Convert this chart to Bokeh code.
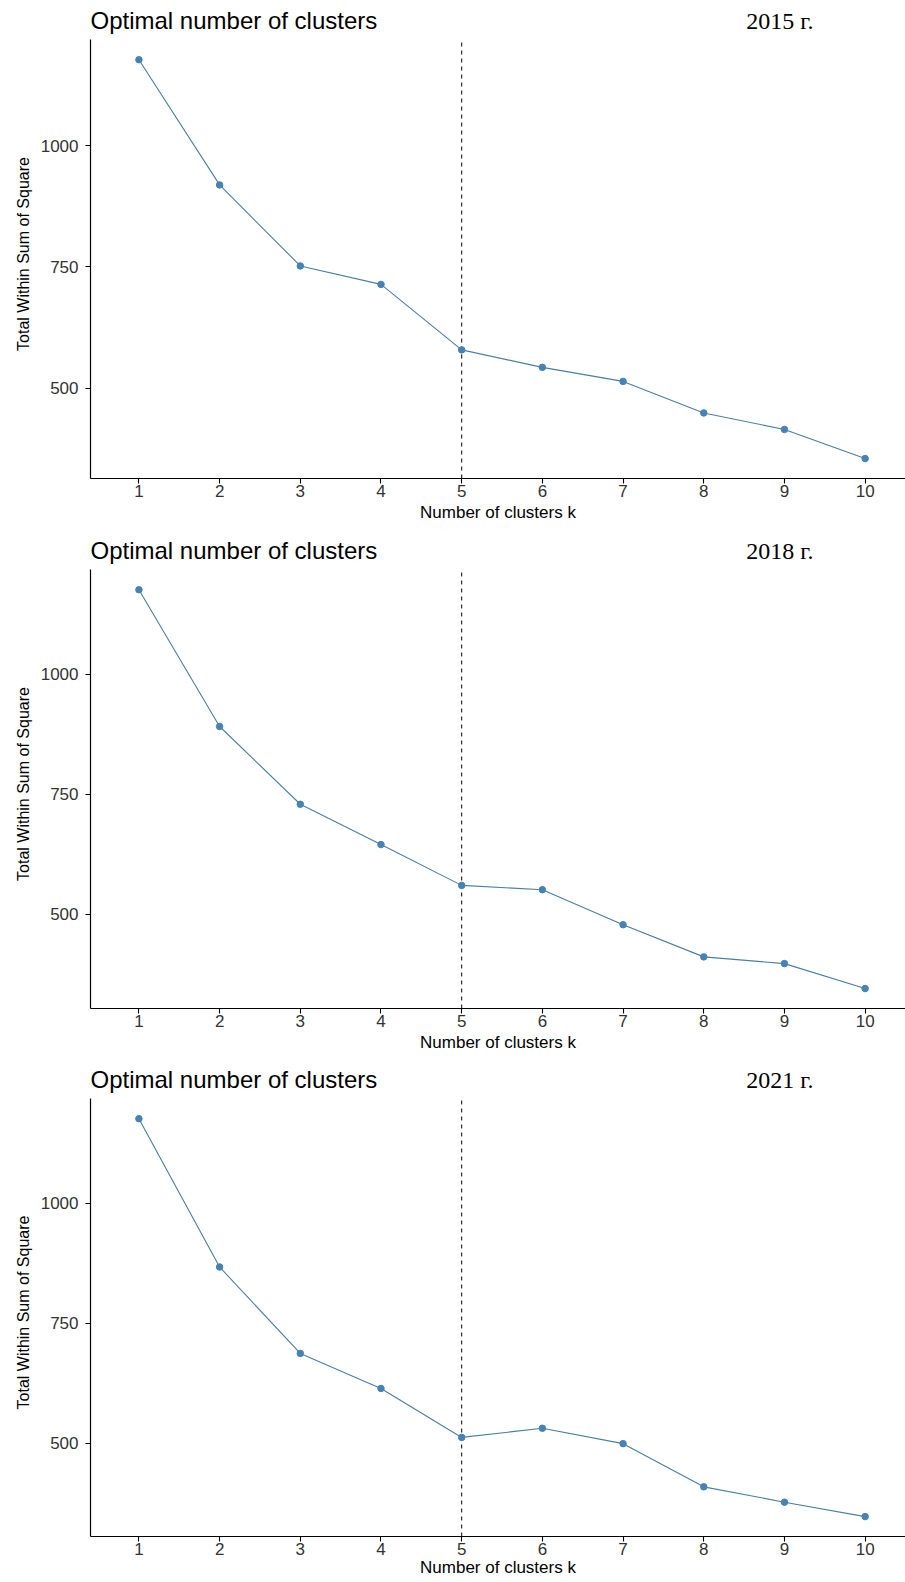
from bokeh.plotting import figure
from bokeh.layouts import column
from bokeh.models import Range1d, Label, FixedTicker, Title
from bokeh.embed import file_html
from bokeh.resources import INLINE

# ---- data ----
k = [1, 2, 3, 4, 5, 6, 7, 8, 9, 10]
wss_2015 = [1177, 919, 752, 714, 579, 543, 514, 449, 415, 355]
wss_2018 = [1176, 891, 729, 645, 560, 551, 478, 411, 397, 345]
wss_2021 = [1176, 867, 687, 614, 512, 531, 499, 409, 377, 347]
years = ["2015 г.", "2018 г.", "2021 г."]
y_ticks = [500, 750, 1000]
x_ticks = k
optimal_k = 5
title_text = "Optimal number of clusters"
x_label = "Number of clusters k"
y_label = "Total Within Sum of Square"

COLOR = "#4682B4"
LINE_COLOR = "#4a7ea6"
SANS = "Liberation Sans"
SERIF = "Liberation Serif"

X0, X1 = 0.4, 10.5
FRAME_W = 815
LEFT = 90
YLABEL_LEN = 12.227 * 16   # approx. rendered length of the y label (px)


def make_panel(values, year, height, bottom, top_px, xlab_standoff):
    frame_px = height - bottom
    data_px = frame_px - top_px
    lo, hi = min(values), max(values)
    pad = 0.05 * (hi - lo)
    y0, y1 = lo - pad, hi + pad
    upp = (y1 - y0) / data_px          # data units per pixel (vertical)
    xpp = (X1 - X0) / FRAME_W          # data units per pixel (horizontal)
    ytop = y1 + top_px * upp

    p = figure(width=LEFT + FRAME_W, height=height,
               x_range=Range1d(X0, X1), y_range=Range1d(y0, ytop),
               output_backend="svg", toolbar_location=None,
               min_border_left=LEFT, min_border_right=0,
               min_border_top=0, min_border_bottom=bottom)
    p.title.visible = False
    p.xgrid.visible = False
    p.ygrid.visible = False
    p.outline_line_color = None
    p.background_fill_color = "white"
    p.border_fill_color = "white"

    for ax in (p.xaxis[0], p.yaxis[0]):
        ax.axis_line_color = "black"
        ax.axis_line_width = 1.2
        ax.major_tick_line_color = "black"
        ax.major_tick_line_width = 1.1
        ax.major_tick_in = 0
        ax.major_tick_out = 5
        ax.minor_tick_line_color = None
        ax.major_label_text_font = SANS
        ax.major_label_text_font_size = "17px"
        ax.major_label_text_color = "#333333"
        ax.axis_label_text_font = SANS
        ax.axis_label_text_font_style = "normal"
        ax.axis_label_text_color = "black"

    p.xaxis[0].ticker = FixedTicker(ticks=x_ticks)
    p.yaxis[0].ticker = FixedTicker(ticks=y_ticks)
    p.yaxis[0].bounds = (y0, y1)
    p.xaxis[0].axis_label = x_label
    p.xaxis[0].axis_label_text_font_size = "17px"
    p.xaxis[0].major_label_standoff = 1
    p.xaxis[0].axis_label_standoff = xlab_standoff
    p.yaxis[0].major_label_standoff = 7

    # y axis title, centred on the plotted area (not on the whole frame)
    centre = top_px + data_px / 2 - 6
    p.add_layout(Title(text=y_label, align="left", vertical_align="middle",
                       offset=frame_px - centre - YLABEL_LEN / 2,
                       text_font=SANS, text_font_size="16px",
                       text_font_style="normal", text_color="black",
                       standoff=10), "left")

    # optimal k marker: dashed vertical line over the plotted y extent
    p.segment(x0=[optimal_k], y0=[y0], x1=[optimal_k], y1=[y1],
              line_color="black", line_dash="4 4", line_width=1)

    p.line(k, values, line_color=LINE_COLOR, line_width=1.1)
    p.scatter(k, values, size=6.5, fill_color=COLOR, line_color=COLOR)

    # titles (inside the top strip of the frame, 19 px above the plotted area)
    ty = y1 + 19 * upp
    p.add_layout(Label(x=X0, y=ty, text=title_text,
                       text_font=SANS, text_font_size="24px", text_color="black",
                       text_align="left", text_baseline="middle"))
    p.add_layout(Label(x=X0 + (813 - LEFT) * xpp, y=ty, text=year,
                       text_font=SERIF, text_font_size="24px", text_color="black",
                       text_align="right", text_baseline="middle"))
    return p


p1 = make_panel(wss_2015, years[0], 530, 52, 39.3, 3)
p2 = make_panel(wss_2018, years[1], 530, 52, 39.3, 3)
p3 = make_panel(wss_2021, years[2], 522, 46, 38.3, 0)

layout = column(p1, p2, p3, spacing=0)
open("out.html", "w").write(file_html(layout, INLINE))
